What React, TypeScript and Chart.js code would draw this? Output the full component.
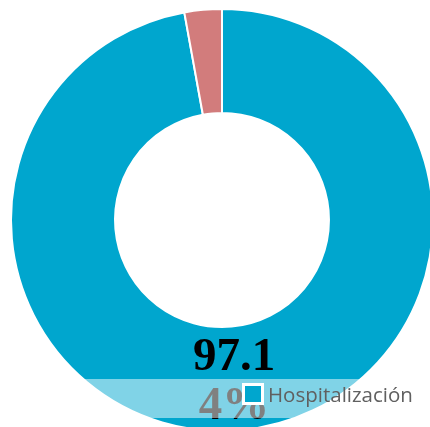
import React, { useEffect, useRef } from "react";
import { Chart, registerables } from "chart.js";

Chart.register(...registerables);

const categories = ["Hospitalización", ""];
const values = [97.14, 2.86];
const colors = ["#00A6CE", "#D27C7C"];
const legendItems = ["Hospitalización"];

const W = 444;
const H = 440;

const overlayPlugin = {
  id: "overlay",
  afterDatasetsDraw(chart: any) {
    const ctx = chart.ctx;
    const txt = values[0].toFixed(2) + "%";
    const lines = [txt.slice(0, 4), txt.slice(4)];
    ctx.save();
    ctx.font = "bold 47px 'Liberation Serif', 'DejaVu Serif', serif";
    ctx.fillStyle = "#000";
    ctx.textAlign = "center";
    ctx.textBaseline = "alphabetic";
    ctx.fillText(lines[0], 234, 370);
    ctx.fillText(lines[1], 234, 419);
    ctx.restore();
  },
  afterDraw(chart: any) {
    const ctx = chart.ctx;
    ctx.save();
    ctx.fillStyle = "rgba(255,255,255,0.5)";
    ctx.fillRect(0, 379, W, 39);
    // legend
    ctx.fillStyle = "#ffffff";
    ctx.fillRect(242, 383, 22, 22);
    ctx.fillStyle = colors[0];
    ctx.fillRect(245, 386, 16, 16);
    ctx.fillStyle = "#606060";
    ctx.font = "20.5px 'Open Sans', sans-serif";
    ctx.textAlign = "left";
    ctx.textBaseline = "alphabetic";
    ctx.fillText(legendItems[0], 268, 402);
    ctx.restore();
  },
};

export default function App() {
  const ref = useRef<HTMLCanvasElement | null>(null);
  useEffect(() => {
    if (!ref.current) return;
    const chart = new Chart(ref.current, {
      type: "doughnut",
      data: {
        labels: categories,
        datasets: [
          {
            data: values,
            backgroundColor: colors,
            borderColor: "#ffffff",
            borderWidth: 2,
            hoverOffset: 0,
          },
        ],
      },
      options: {
        responsive: false,
        animation: false,
        radius: 211,
        cutout: "50.7%",
        layout: { padding: 0 },
        plugins: {
          legend: { display: false },
          tooltip: { enabled: false },
        },
      } as any,
      plugins: [overlayPlugin],
    });
    return () => chart.destroy();
  }, []);
  return (
    <div
      style={{
        position: "fixed",
        left: 0,
        top: 0,
        width: 430,
        height: 427,
        overflow: "hidden",
        background: "#fff",
      }}
    >
      <canvas ref={ref} width={W} height={H} style={{ width: W, height: H, display: "block" }} />
    </div>
  );
}
